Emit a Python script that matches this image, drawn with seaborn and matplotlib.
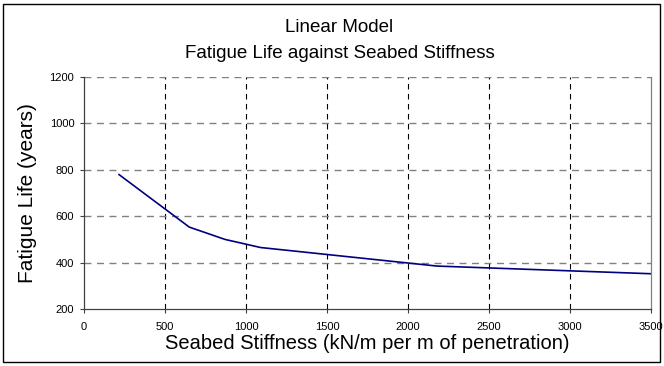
import matplotlib
matplotlib.use("Agg")
import matplotlib.pyplot as plt
import seaborn as sns
import pandas as pd
from matplotlib.patches import Rectangle

stiffness = [215, 650, 870, 1090, 2180, 3500]
fatigue_life = [780, 553, 500, 465, 385, 352]
x_ticks = [0, 500, 1000, 1500, 2000, 2500, 3000, 3500]
y_ticks = [200, 400, 600, 800, 1000, 1200]

sns.set_theme(style="white")
plt.rcParams['font.family'] = ['Liberation Sans', 'DejaVu Sans']
plt.rcParams['text.color'] = 'black'
plt.rcParams['axes.labelcolor'] = 'black'
plt.rcParams['xtick.color'] = 'black'
plt.rcParams['ytick.color'] = 'black'

df = pd.DataFrame({"x": stiffness, "y": fatigue_life})

fig = plt.figure(figsize=(6.64, 3.66), dpi=100)
ax = fig.add_axes([84/664, 57/366, (651-84)/664, (309-77)/366])

sns.lineplot(data=df, x="x", y="y", ax=ax, color="#000080", linewidth=1.2)

ax.set_xlim(0, 3500)
ax.set_ylim(200, 1200)
ax.set_xticks(x_ticks)
ax.set_yticks(y_ticks)
ax.tick_params(axis="both", labelsize=8, length=3, width=0.8, color="#404040", direction="out", labelcolor="black")
ax.tick_params(axis="x", bottom=True, pad=6)
ax.tick_params(axis="y", left=True, pad=4)

for v in x_ticks[1:-1]:
    ax.axvline(v, color="black", linestyle=(0, (5, 4)), linewidth=0.8, zorder=0)
for v in y_ticks[1:]:
    ax.axhline(v, color="#808080", linestyle=(0, (5, 4)), linewidth=1.0, zorder=0)

ax.spines["top"].set_visible(False)
ax.spines["right"].set_color("#808080")
ax.spines["left"].set_color("#404040")
ax.spines["bottom"].set_color("#404040")
for s in ax.spines.values():
    s.set_linewidth(0.9)

ax.set_xlabel("Seabed Stiffness (kN/m per m of penetration)", fontsize=14.5, labelpad=2, color="black")
ax.set_ylabel("Fatigue Life (years)", fontsize=15, labelpad=9, color="black")

fig.text(0.51, 1 - 27/366, "Linear Model", ha="center", va="center", fontsize=13.5, color="black")
fig.text(0.512, 1 - 54/366, "Fatigue Life against Seabed Stiffness", ha="center", va="center", fontsize=13.5, color="black")

fig.patches.append(Rectangle((3/664, 4/366), 657/664, 358/366, transform=fig.transFigure,
                             fill=False, edgecolor="black", linewidth=1.0))

fig.savefig("out.png", dpi=100)
